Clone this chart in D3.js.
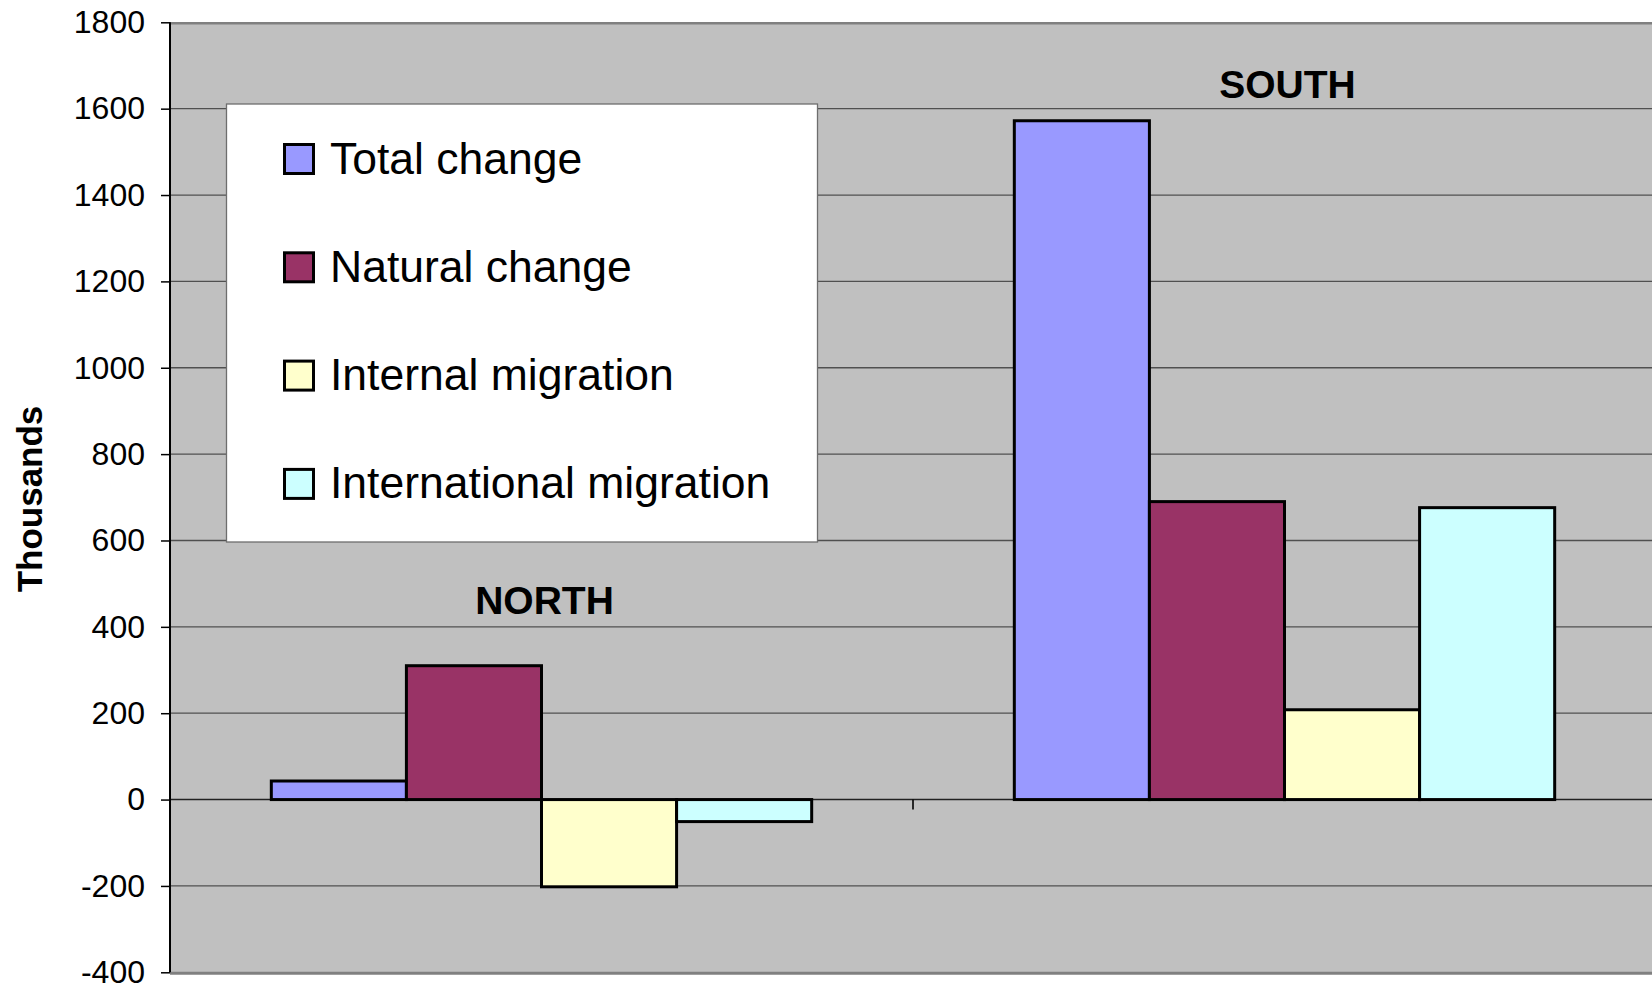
<!DOCTYPE html>
<html>
<head>
<meta charset="utf-8">
<script src="https://cdn.jsdelivr.net/npm/d3@7"></script>
<style>
  html, body { margin: 0; padding: 0; background: #ffffff; }
  svg { display: block; }
  text { font-family: "Liberation Sans", Arial, sans-serif; }
</style>
</head>
<body>
<svg id="chart" width="1652" height="983"></svg>
<script>
// Population change by region, thousands
const regions = ["NORTH", "SOUTH"];
const seriesNames = ["Total change", "Natural change", "Internal migration", "International migration"];
const northValues = [43, 310, -202, -51];
const southValues = [1572, 690, 208, 676];
const yTicks = [-400, -200, 0, 200, 400, 600, 800, 1000, 1200, 1400, 1600, 1800];
const seriesColors = ["#9999FF", "#993366", "#FFFFCC", "#CCFFFF"];

const valuesByRegion = { NORTH: northValues, SOUTH: southValues };

// layout
const W = 1652, H = 983;
const plot = { left: 170, right: 1656, top: 22.3, bottom: 972.3 };
const regionLabelValue = { NORTH: 430, SOUTH: 1625 };

const svg = d3.select("#chart");

const y = d3.scaleLinear().domain([-400, 1800]).range([plot.bottom, plot.top]);
const x0 = d3.scaleBand().domain(regions).range([plot.left, plot.right]).paddingInner(0).paddingOuter(0);
const x1 = d3.scaleBand().domain(seriesNames).range([0, x0.bandwidth()]).paddingInner(0).paddingOuter(0.75);
const color = d3.scaleOrdinal().domain(seriesNames).range(seriesColors);

// plot area background
svg.append("rect")
  .attr("x", plot.left).attr("y", plot.top)
  .attr("width", plot.right - plot.left + 10).attr("height", plot.bottom - plot.top)
  .attr("fill", "#C0C0C0");

// horizontal gridlines
svg.append("g")
  .selectAll("line")
  .data(yTicks.filter(t => t !== -400 && t !== 1800))
  .join("line")
  .attr("x1", plot.left).attr("x2", plot.right + 10)
  .attr("y1", d => y(d)).attr("y2", d => y(d))
  .attr("stroke", d => d === 0 ? "#222" : "#505050")
  .attr("stroke-width", d => d === 0 ? 1.6 : 1.3);

// plot area top and bottom border
svg.append("line")
  .attr("x1", plot.left).attr("x2", plot.right + 10)
  .attr("y1", y(1800) + 1).attr("y2", y(1800) + 1)
  .attr("stroke", "#808080").attr("stroke-width", 2.5);
svg.append("line")
  .attr("x1", plot.left).attr("x2", plot.right + 10)
  .attr("y1", y(-400) + 1).attr("y2", y(-400) + 1)
  .attr("stroke", "#808080").attr("stroke-width", 3);

// bars
const groups = svg.append("g")
  .selectAll("g")
  .data(regions)
  .join("g")
  .attr("transform", d => `translate(${x0(d)},0)`);

groups.selectAll("rect")
  .data(r => seriesNames.map((s, i) => ({ series: s, value: valuesByRegion[r][i] })))
  .join("rect")
  .attr("x", d => x1(d.series))
  .attr("width", x1.bandwidth())
  .attr("y", d => y(Math.max(0, d.value)))
  .attr("height", d => Math.abs(y(d.value) - y(0)))
  .attr("fill", d => color(d.series))
  .attr("stroke", "#000")
  .attr("stroke-width", 3);

// region labels
svg.append("g")
  .selectAll("text")
  .data(regions)
  .join("text")
  .attr("x", d => x0(d) + x0.bandwidth() / 2 + 3)
  .attr("y", d => y(regionLabelValue[d]))
  .attr("text-anchor", "middle")
  .attr("font-size", 39)
  .attr("font-weight", "bold")
  .attr("fill", "#000")
  .text(d => d);

// category axis ticks at region boundaries
const boundaries = regions.map(r => x0(r)).concat([x0(regions[regions.length - 1]) + x0.bandwidth()]);
svg.append("g")
  .selectAll("line")
  .data(boundaries.slice(1))
  .join("line")
  .attr("x1", d => d).attr("x2", d => d)
  .attr("y1", y(0)).attr("y2", y(0) + 10)
  .attr("stroke", "#000").attr("stroke-width", 1.6);

// value axis
const yAxis = d3.axisLeft(y).tickValues(yTicks).tickSize(9).tickPadding(16).tickFormat(d => String(d));
const yg = svg.append("g")
  .attr("transform", `translate(${plot.left},0)`)
  .call(yAxis);
yg.select(".domain").attr("stroke", "#000").attr("stroke-width", 2).attr("d", `M0,${plot.top}V${plot.bottom}`);
yg.selectAll(".tick line").attr("stroke", "#000").attr("stroke-width", 1.5);
yg.selectAll(".tick text")
  .attr("font-size", 32)
  .attr("font-family", "'Liberation Sans', Arial, sans-serif")
  .attr("fill", "#000");

// axis title
svg.append("text")
  .attr("transform", "translate(42,499) rotate(-90)")
  .attr("text-anchor", "middle")
  .attr("font-size", 35)
  .attr("font-weight", "bold")
  .text("Thousands");

// legend
const legend = { x: 226.5, y: 104, w: 591, h: 438, swatchX: 284.5, textX: 330, firstBaseline: 173.5, step: 108.3, swatch: 29 };
svg.append("rect")
  .attr("x", legend.x).attr("y", legend.y)
  .attr("width", legend.w).attr("height", legend.h)
  .attr("fill", "#ffffff").attr("stroke", "#6e6e6e").attr("stroke-width", 1.3);

const items = svg.append("g")
  .selectAll("g")
  .data(seriesNames)
  .join("g")
  .attr("transform", (d, i) => `translate(0,${legend.firstBaseline + i * legend.step})`);

items.append("rect")
  .attr("x", legend.swatchX).attr("y", -legend.swatch)
  .attr("width", legend.swatch).attr("height", legend.swatch)
  .attr("fill", d => color(d))
  .attr("stroke", "#000").attr("stroke-width", 3);

items.append("text")
  .attr("x", legend.textX).attr("y", 0)
  .attr("font-size", 44.5)
  .attr("fill", "#000")
  .text(d => d);
</script>
</body>
</html>
